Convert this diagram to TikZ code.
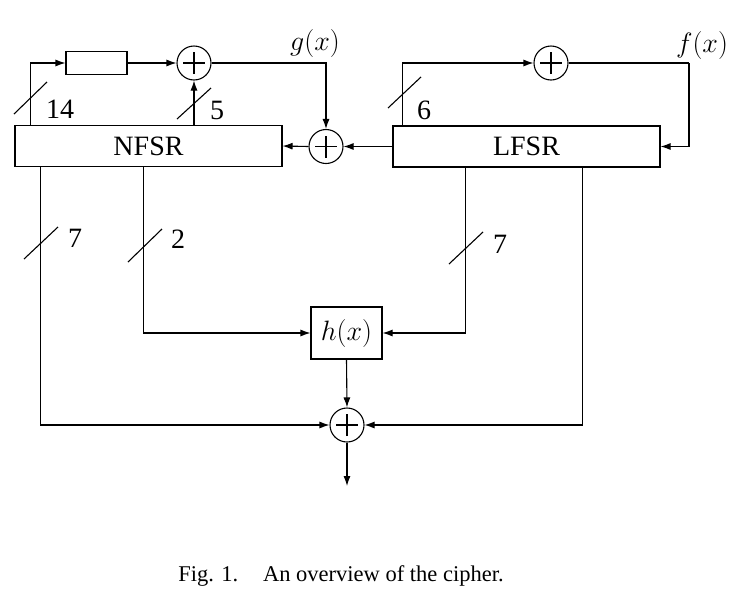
\RequirePackage{fix-cm}
\documentclass[tikz,border=0pt]{standalone}
\usepackage{fontspec}
\setmainfont{Liberation Serif}
\usetikzlibrary{arrows.meta,calc}
\begin{document}
\begin{tikzpicture}[x=1pt,y=-1pt,
  every node/.style={font=\fontsize{28}{32}\selectfont},
  ln/.style={line width=1.1pt},
  arr/.style={ln,-{Latex[length=10pt,width=7pt]}},
  regbox/.style={draw,ln,rectangle,inner sep=0pt},
  xorc/.style={draw,ln,circle,minimum size=34pt,inner sep=0pt,
    path picture={\draw[ln] ([xshift=-11pt]path picture bounding box.center) -- ([xshift=11pt]path picture bounding box.center);
    \draw[ln] ([yshift=-11pt]path picture bounding box.center) -- ([yshift=11pt]path picture bounding box.center);}},
  lbl/.style={inner sep=0pt},
  slash/.style={ln}]
\useasboundingbox (0,0) rectangle (747,603);
% nodes
\node[regbox,minimum width=267pt,minimum height=41pt] (nfsr) at (148.5,146) {NFSR};
\node[regbox,minimum width=267pt,minimum height=41pt] (lfsr) at (526.5,146.5) {LFSR};
\node[regbox,minimum width=61pt,minimum height=23pt] (delay) at (96.5,63) {};
\node[xorc] (x1) at (194,63) {};
\node[xorc] (x2) at (326,146.5) {};
\node[xorc] (x3) at (551,63) {};
\node[regbox,minimum width=71pt,minimum height=52pt] (hx) at (346.5,333) {$h(x)$};
\node[xorc] (x4) at (347,425) {};
\coordinate (out) at (347,486);
\coordinate (fx) at (689,63);
% labels
\node[lbl] (g) at (315,43) {$g(x)$};
\node[lbl] (f) at (702,45) {$f(x)$};
\node[lbl] (n14) at (60,109) {14};
\node[lbl] (n5) at (217,110) {5};
\node[lbl] (n6) at (424,110) {6};
\node[lbl] (n7a) at (75,238) {7};
\node[lbl] (n2) at (178,239) {2};
\node[lbl] (n7b) at (500,244) {7};
\node[lbl,font=\fontsize{22.5}{26}\selectfont] (cap) at (341,576) {Fig. 1.\hspace{1.1em}An overview of the cipher.};
% connectors
\draw[arr] ($(nfsr.north west)+(16,0)$) |- (delay.west);
\draw[arr] (delay.east) -- (x1.west);
\draw[arr] (nfsr.north -| x1) -- (x1.south);
\draw[arr] (x1.east) -| (x2.north);
\draw[arr] (x2.west) -- (nfsr.east);
\draw[arr] (lfsr.west) -- (x2.east);
\draw[arr] ($(lfsr.north west)+(10,0)$) |- (x3.west);
\draw[ln] (x3.east) -- (fx);
\draw[arr] (fx) |- (lfsr.east);
\draw[arr] ($(nfsr.south west)+(26,0)$) |- (x4.west);
\draw[arr] ($(nfsr.south west)+(129,0)$) |- (hx.west);
\draw[arr] ($(lfsr.south west)+(73,0)$) |- (hx.east);
\draw[arr] ($(lfsr.south west)+(190,0)$) |- (x4.east);
\draw[arr] (hx.south) -- (x4.north);
\draw[arr] (x4.south) -- (out);
% slashes
\draw[slash] (14,114) -- (47,82);
\draw[slash] (177,119) -- (211,88);
\draw[slash] (388,108) -- (421,77);
\draw[slash] (24,259) -- (58,227);
\draw[slash] (128,262) -- (162,229);
\draw[slash] (449,264) -- (483,232);
\end{tikzpicture}
\end{document}
